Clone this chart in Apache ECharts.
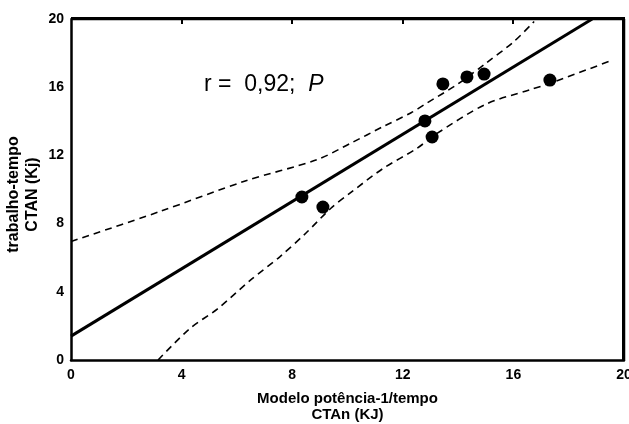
<!DOCTYPE html>
<html>
<head>
<meta charset="utf-8">
<script src="https://cdn.jsdelivr.net/npm/echarts@6/dist/echarts.min.js"></script>
<style>
html,body{margin:0;padding:0;background:#fff}
#wrap{position:relative;width:629px;height:424px;overflow:hidden}
#c{width:629px;height:424px}
#frame{position:absolute;left:71px;top:17px;width:554px;height:343px;box-sizing:border-box;
  border-top:3px solid #000;border-right:3px solid #000;pointer-events:none}
.tk{position:absolute;width:2px;height:5px;background:#000;pointer-events:none}
</style>
</head>
<body>
<div id="wrap"><div id="c"></div><div id="frame"></div></div>
<script>
// Observed points (Modelo potência-1/tempo CTAn vs trabalho-tempo CTAN)
var pointsX = [8.35, 9.11, 12.80, 13.06, 13.45, 14.32, 14.94, 17.32];
var pointsY = [9.56, 8.97, 14.02, 13.08, 16.19, 16.60, 16.77, 16.42];
// Regression line endpoints
var lineX = [0, 18.85];
var lineY = [1.4, 20];
// Upper confidence band
var upperX = [0, 3.2, 6.3, 8.9, 10.1, 11.3, 12.3, 12.8, 14.0, 15.0, 16.0, 16.75];
var upperY = [6.95, 8.7, 10.5, 11.75, 12.7, 13.7, 14.5, 15.0, 16.2, 17.4, 18.65, 19.85];
// Lower confidence band
var lowerX = [3.15, 4.3, 5.3, 6.5, 7.55, 8.5, 9.4, 10.1, 11.3, 12.5, 13.2, 15.0, 16.6, 17.45, 19.6];
var lowerY = [0, 1.85, 3.0, 4.7, 6.05, 7.45, 8.9, 9.8, 11.25, 12.4, 13.25, 15.0, 15.85, 16.3, 17.6];
var xTicks = [0, 4, 8, 12, 16, 20];
var yTicks = [0, 4, 8, 12, 16, 20];
var xMin = 0, xMax = 20, yMin = 0, yMax = 20;
var topTickLen = 0.3; // inside tick length on the top frame, in y units

function zip(a, b) { return a.map(function (v, i) { return [v, b[i]]; }); }

var frameData = [[xMin, yMax], [xMax, yMax], [xMax, yMin]];

var font = '"Liberation Sans", Arial, sans-serif';
var chart = echarts.init(document.getElementById('c'), null, {renderer: 'canvas'});
chart.setOption({
  animation: false,
  backgroundColor: '#fff',
  grid: {left: 71, right: 5, top: 19, bottom: 64, containLabel: false, outerBoundsMode: 'none'},
  xAxis: {
    type: 'value', min: xMin, max: xMax, interval: 4,
    name: 'Modelo potência-1/tempo\nCTAn (KJ)',
    nameLocation: 'middle', nameGap: 31, nameMoveOverlap: false,
    nameTextStyle: {fontFamily: font, fontWeight: 'bold', fontSize: 15, color: '#000', lineHeight: 16},
    axisLine: {show: true, onZero: false, lineStyle: {color: '#000', width: 2.5}},
    axisTick: {show: false},
    splitLine: {show: false},
    axisLabel: {fontFamily: font, fontWeight: 'bold', fontSize: 14, color: '#000', margin: 8,
      formatter: function (v) { return xTicks.indexOf(v) >= 0 ? String(v) : ''; }}
  },
  yAxis: {
    type: 'value', min: yMin, max: yMax, interval: 4,
    name: 'trabalho-tempo\nCTAN (Kj)',
    nameLocation: 'middle', nameGap: 29, nameRotate: 90, nameMoveOverlap: false,
    nameTextStyle: {fontFamily: font, fontWeight: 'bold', fontSize: 16, color: '#000', lineHeight: 19,
      padding: [0, 10, 0, 0]},
    axisLine: {show: true, onZero: false, lineStyle: {color: '#000', width: 2.5}},
    axisTick: {show: false},
    splitLine: {show: false},
    axisLabel: {fontFamily: font, fontWeight: 'bold', fontSize: 14, color: '#000', margin: 7,
      formatter: function (v) { return yTicks.indexOf(v) >= 0 ? String(v) : ''; }}
  },
  graphic: [{
    type: 'text', left: 204, top: 73, silent: true, z: 10,
    style: {
      text: '{n|r =  0,92;  }{i|P}',
      rich: {
        n: {fontFamily: font, fontSize: 23, fill: '#000'},
        i: {fontFamily: font, fontSize: 23, fontStyle: 'italic', fill: '#000'}
      }
    }
  }],
  series: [{
    type: 'line', data: zip(upperX, upperY), smooth: 0.3, symbol: 'none',
    lineStyle: {color: '#000', width: 1.6, type: [7, 5]}, z: 2
  }, {
    type: 'line', data: zip(lowerX, lowerY), smooth: 0.3, symbol: 'none',
    lineStyle: {color: '#000', width: 1.6, type: [7, 5]}, z: 2
  }, {
    type: 'line', data: zip(lineX, lineY), symbol: 'none',
    lineStyle: {color: '#000', width: 3}, z: 3
  }, {
    type: 'scatter', data: zip(pointsX, pointsY), symbol: 'circle', symbolSize: 13,
    itemStyle: {color: '#000', opacity: 1}, z: 4
  }, {
    type: 'line', data: frameData, symbol: 'none', clip: false, silent: true,
    lineStyle: {color: '#000', width: 2.5, type: 'solid'}, z: 5
  }]
});

// inside ticks on the top frame, placed through the chart's x scale
var wrap = document.getElementById('wrap');
xTicks.forEach(function (t) {
  if (t > xMin && t < xMax) {
    var p = chart.convertToPixel({xAxisIndex: 0, yAxisIndex: 0}, [t, yMax]);
    if (p && isFinite(p[0])) {
      var d = document.createElement('div');
      d.className = 'tk';
      d.style.left = (p[0] - 1) + 'px';
      d.style.top = (p[1]) + 'px';
      wrap.appendChild(d);
    }
  }
});
</script>
</body>
</html>
